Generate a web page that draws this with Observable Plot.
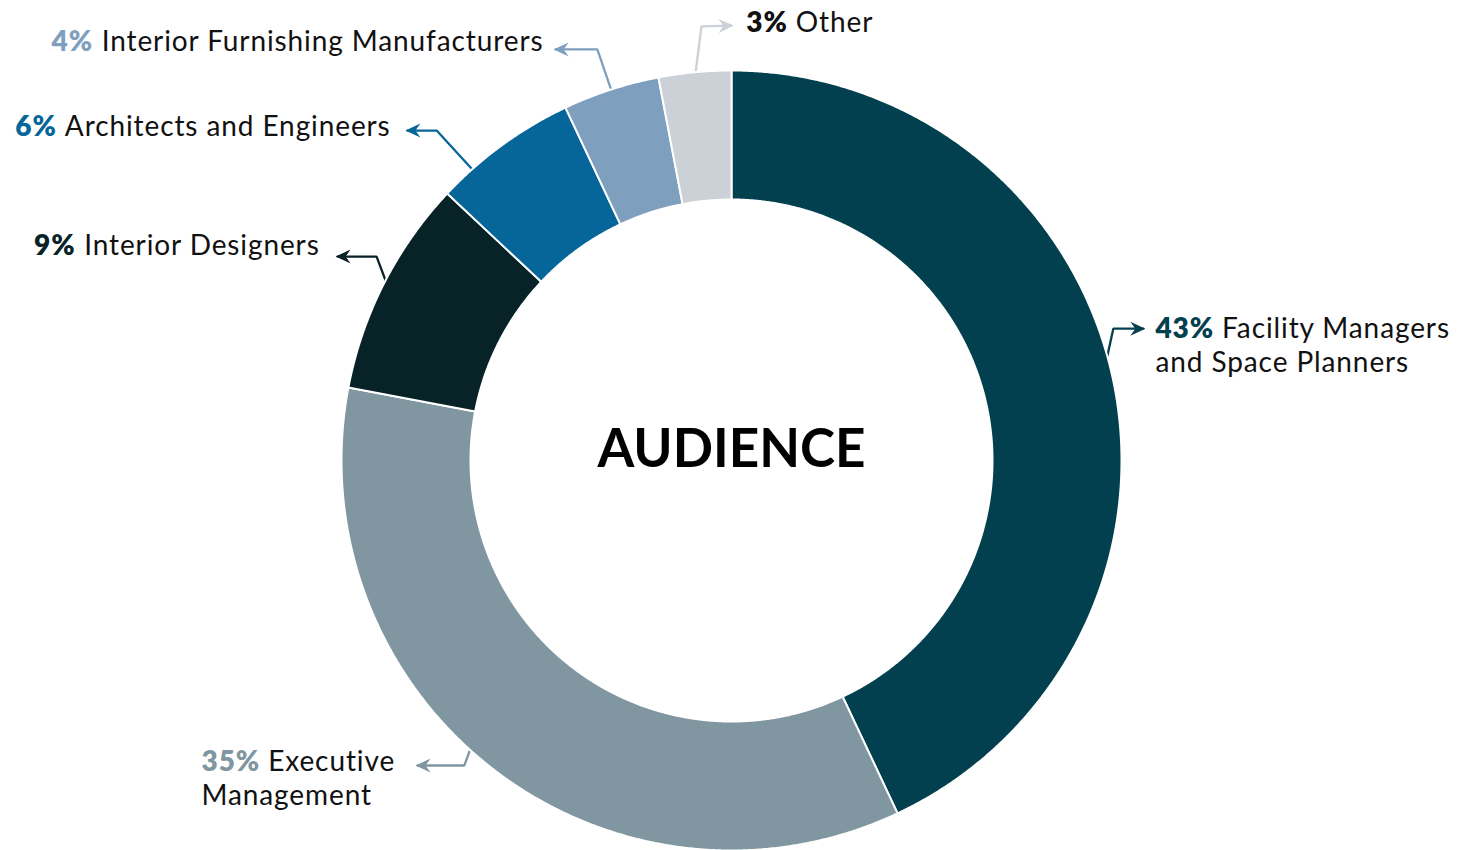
<!DOCTYPE html>
<html><head><meta charset="utf-8">
<script src="https://cdn.jsdelivr.net/npm/d3@7"></script>
<script src="https://cdn.jsdelivr.net/npm/@observablehq/plot@0.6"></script>
<style>
html,body{margin:0;padding:0;background:#fff;}
#chart{width:1476px;height:850px;overflow:hidden;}
#chart g[font-size="28"] text{letter-spacing:0.9px;}
</style>
</head><body><div id="chart"></div>
<script>
// ---------- data ----------
const categories = ["Facility Managers and Space Planners","Executive Management","Interior Designers","Architects and Engineers","Interior Furnishing Manufacturers","Other"];
const shares = [43, 35, 9, 6, 4, 3];
const percentLabels = ["43%","35%","9%","6%","4%","3%"];
const labelLines = [["Facility Managers","and Space Planners"],["Executive","Management"],["Interior Designers"],["Architects and Engineers"],["Interior Furnishing Manufacturers"],["Other"]];
const centerTitle = "AUDIENCE";

// ---------- styles ----------
const sliceColors = ["#03404f","#8096a0","#072328","#076699","#7f9fbe","#cbd1d6"];
const percentColors = ["#03404f","#8096a0","#072328","#076699","#7f9fbe","#111111"];
const textColor = "#111111";
const FONT = "Lato, 'Open Sans', sans-serif";
const FONT_SIZE = 28;
const LETTER_SPACING = 0.9;
const LINE_STEP = 34;

// ---------- layout (units of outer radius, origin at donut centre, y up) ----------
const W = 1476, H = 850, CX = 731, CY = 460, R_OUT = 390, R_IN = 261;
const leaderLayout = [
  {start:[0.964,0.269],  bend:[0.979,0.338],  tip:[1.056,0.338],  textX:1.087,  textY:0.338, anchor:"start"},
  {start:[-0.669,-0.738],bend:[-0.685,-0.782],tip:[-0.805,-0.782],textX:-1.359, textY:-0.772, anchor:"start"},
  {start:[-0.885,0.456], bend:[-0.910,0.523], tip:[-1.010,0.523], textX:-1.056, textY:0.549, anchor:"end"},
  {start:[-0.645,0.725], bend:[-0.756,0.846], tip:[-0.831,0.846], textX:-0.874, textY:0.856, anchor:"end"},
  {start:[-0.308,0.949], bend:[-0.344,1.054], tip:[-0.451,1.054], textX:-0.482, textY:1.072, anchor:"end"},
  {start:[-0.092,0.995], bend:[-0.077,1.113], tip:[0.0,1.115],    textX:0.038,  textY:1.121, anchor:"start"}
];

// ---------- geometry from data ----------
const pie = d3.pie().sort(null).value(d => d)(shares);
const rIn = R_IN / R_OUT;
const slicePts = [];
pie.forEach((p, i) => {
  const n = Math.max(4, Math.ceil((p.endAngle - p.startAngle) / 0.005));
  for (let k = 0; k <= n; k++) {
    const a = p.startAngle + (p.endAngle - p.startAngle) * k / n;
    slicePts.push({id: i, x: Math.sin(a), y: Math.cos(a), color: sliceColors[i]});
  }
  for (let k = n; k >= 0; k--) {
    const a = p.startAngle + (p.endAngle - p.startAngle) * k / n;
    slicePts.push({id: i, x: rIn * Math.sin(a), y: rIn * Math.cos(a), color: sliceColors[i]});
  }
});

const leaderPts = [];
const headPts = [];
leaderLayout.forEach((L, i) => {
  const c = sliceColors[i];
  [L.start, L.bend, L.tip].forEach(([x, y]) => leaderPts.push({id: i, x, y, color: c}));
  const dx = L.tip[0] - L.bend[0], dy = L.tip[1] - L.bend[1];
  const len = Math.hypot(dx, dy), ux = dx / len, uy = dy / len, nx = -uy, ny = ux;
  const hl = 15 / R_OUT, hw = 7 / R_OUT, notch = 5 / R_OUT;
  const [tx, ty] = L.tip;
  const T = [tx + ux * 2 / R_OUT, ty + uy * 2 / R_OUT];
  [[T[0], T[1]],
   [T[0] - ux * hl + nx * hw, T[1] - uy * hl + ny * hw],
   [T[0] - ux * (hl - notch), T[1] - uy * (hl - notch)],
   [T[0] - ux * hl - nx * hw, T[1] - uy * hl - ny * hw]
  ].forEach(([x, y]) => headPts.push({id: i, x, y, color: c}));
});

// text pieces
const ctx = document.createElement("canvas").getContext("2d");
function tw(s, weight) {
  ctx.font = `${weight} ${FONT_SIZE}px ${FONT}`;
  return (ctx.measureText(s).width + s.length * LETTER_SPACING) / R_OUT;
}
const pctPieces = [], namePieces = [];
leaderLayout.forEach((L, i) => {
  const lines = labelLines[i];
  const space = tw(" ", 400);
  lines.forEach((line, j) => {
    const y = L.textY - j * LINE_STEP / R_OUT;
    if (j === 0) {
      if (L.anchor === "start") {
        pctPieces.push({x: L.textX, y, text: percentLabels[i], color: percentColors[i], anchor: "start"});
        namePieces.push({x: L.textX + tw(percentLabels[i], 800) + space, y, text: line, anchor: "start"});
      } else {
        namePieces.push({x: L.textX, y, text: line, anchor: "end"});
        pctPieces.push({x: L.textX - tw(line, 400) - space, y, text: percentLabels[i], color: percentColors[i], anchor: "end"});
      }
    } else {
      namePieces.push({x: L.textX, y, text: line, anchor: "start"});
    }
  });
});
const startNames = namePieces.filter(d => d.anchor === "start"), endNames = namePieces.filter(d => d.anchor === "end");
const startPct = pctPieces.filter(d => d.anchor === "start"), endPct = pctPieces.filter(d => d.anchor === "end");

const chart = Plot.plot({
  width: W, height: H, margin: 0,
  x: {domain: [-CX / R_OUT, (W - CX) / R_OUT], axis: null},
  y: {domain: [(CY - H) / R_OUT, CY / R_OUT], axis: null},
  color: {type: "identity"},
  style: {background: "white", fontFamily: FONT},
  marks: [
    Plot.line(leaderPts, {x: "x", y: "y", z: "id", stroke: "color", strokeWidth: 2.3, strokeLinejoin: "miter"}),
    Plot.line(headPts, {x: "x", y: "y", z: "id", fill: "color", stroke: "none", curve: "linear-closed"}),
    Plot.line(slicePts, {x: "x", y: "y", z: "id", fill: "color", stroke: "white", strokeWidth: 2, curve: "linear-closed", strokeLinejoin: "round"}),
    Plot.text(startPct, {x: "x", y: "y", text: "text", fill: "color", textAnchor: "start", fontSize: FONT_SIZE, fontWeight: 800, fontFamily: FONT}),
    Plot.text(endPct, {x: "x", y: "y", text: "text", fill: "color", textAnchor: "end", fontSize: FONT_SIZE, fontWeight: 800, fontFamily: FONT}),
    Plot.text(startNames, {x: "x", y: "y", text: "text", fill: textColor, textAnchor: "start", fontSize: FONT_SIZE, fontWeight: 400, fontFamily: FONT}),
    Plot.text(endNames, {x: "x", y: "y", text: "text", fill: textColor, textAnchor: "end", fontSize: FONT_SIZE, fontWeight: 400, fontFamily: FONT}),
    Plot.text([centerTitle], {x: () => 0, y: () => 0.028, text: d => d, fill: "#000", fontSize: 53, fontWeight: 700, fontFamily: FONT})
  ]
});
document.getElementById("chart").appendChild(chart);
</script>
</body></html>
